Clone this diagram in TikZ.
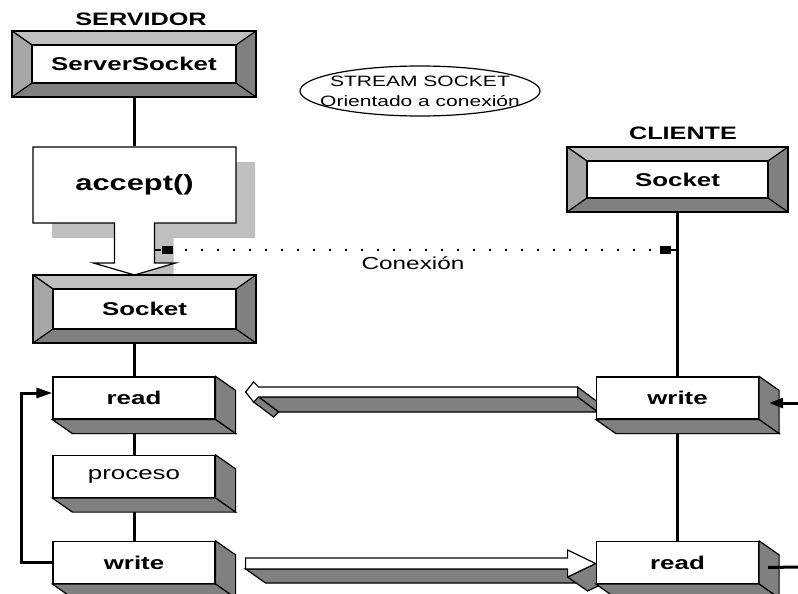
\documentclass[tikz,border=0pt]{standalone}
\usepackage{fontspec}
\setmainfont{Liberation Sans}[FakeStretch=1.4]
\usetikzlibrary{positioning,calc,arrows.meta}

\begin{document}
\begin{tikzpicture}[
        x=1pt, y=-1pt, line width=1.2pt,
        title/.style={font=\fontsize{18}{20}\selectfont\bfseries},
        frame/.style={draw, fill=gray, inner sep=0pt, font=\fontsize{18.5}{20}\selectfont\bfseries,
            path picture={
                \path (path picture bounding box.north west) coordinate (o1)
                      (path picture bounding box.north east) coordinate (o2)
                      (path picture bounding box.south east) coordinate (o3)
                      (path picture bounding box.south west) coordinate (o4);
                \filldraw[fill=gray!50] (o1) -- (o2) -- ([shift={(-20pt,-14pt)}]o2) -- ([shift={(20pt,-14pt)}]o1) -- cycle;
                \filldraw[fill=gray!70] (o1) -- ([shift={(20pt,-14pt)}]o1) -- ([shift={(20pt,14pt)}]o4) -- (o4) -- cycle;
                \draw (o3) -- ([shift={(-20pt,14pt)}]o3);
                \filldraw[fill=white] ([shift={(20pt,-14pt)}]o1) rectangle ([shift={(-20pt,14pt)}]o3);
            }},
        block/.style={draw, fill=white, minimum width=162pt, minimum height=42pt, inner sep=0pt, font=\fontsize{18.5}{20}\selectfont\bfseries},
        depth/.style={draw, fill=gray},
        note/.style={align=center, inner sep=0pt, font=\fontsize{15}{20}\selectfont},
        link/.style={line width=3pt},
        dots/.style={line width=2pt, dash pattern=on 2pt off 14pt},
        sq/.style={fill, inner sep=0pt, minimum width=11pt, minimum height=8pt},
        loopar/.style={line width=3pt, -{Triangle[length=16pt,width=10pt]}},
        accshadow/.style={fill=gray!50},
        accface/.style={draw, fill=white}
    ]
    \useasboundingbox (0,0) rectangle (798,594);

    % accept() arrow with its shadow
    \fill[accshadow, shift={(19,15)}] (33,147) -- (236,147) -- (236,223) -- (154.5,223) -- (154.5,263)
        -- (175.5,263) -- (134.5,275) -- (93.5,263) -- (114.5,263) -- (114.5,223) -- (33,223) -- cycle;
    \filldraw[accface] (33,147) -- (236,147) -- (236,223) -- (154.5,223) -- (154.5,263)
        -- (175.5,263) -- (134.5,275) -- (93.5,263) -- (114.5,263) -- (114.5,223) -- (33,223) -- cycle;

    % Servidor
    \node[title] (srv) at (141,19) {SERVIDOR};
    \node[frame, minimum width=244pt, minimum height=66pt] (ss) at (134,64) {ServerSocket};
    \node[font=\fontsize{22}{24}\selectfont\bfseries, minimum width=203pt, minimum height=76pt, inner sep=0pt] (acc) at (134.5,185) {accept()};
    \node[frame, minimum width=223pt, minimum height=68pt] (sock) at (144.5,309) {Socket};
    \node[block] (rd) at (134,398) {read};
    \node[block, font=\fontsize{18.5}{20}\selectfont] (pr) at (134,476.5) {proceso};
    \node[block] (wr) at (134,562.5) {write};

    % write -> read (cliente to servidor)
    \begin{scope}[shift={($(rd.east)+(30,-6)$)}]
        \filldraw[fill=gray] (332,-5) -- (352,10) -- (352,20) -- (332,5) -- cycle;
        \filldraw[fill=gray] (332,5) -- (352,20) -- (33,20) -- (13,5) -- cycle;
        \filldraw[fill=gray] (13,5) -- (33,20) -- (28,25) -- (8,10) -- cycle;
        \filldraw[fill=white] (0,0) -- (8,-10) -- (13,-5) -- (332,-5) -- (332,5) -- (13,5) -- (8,10) -- cycle;
    \end{scope}

    % write -> read (servidor to cliente)
    \begin{scope}[shift={($(wr.east)+(30,1)$)}]
        \filldraw[fill=gray] (0,5.5) -- (322,5.5) -- (342,19.5) -- (20,19.5) -- cycle;
        \filldraw[fill=gray] (350,0) -- (322,13.5) -- (342,27.5) -- (370,14) -- cycle;
        \filldraw[fill=white] (0,-5.5) -- (322,-5.5) -- (322,-13.5) -- (350,0) -- (322,13.5) -- (322,5.5) -- (0,5.5) -- cycle;
    \end{scope}

    % Cliente
    \node[title] (cli) at (683,133) {CLIENTE};
    \node[frame, minimum width=221pt, minimum height=65pt] (csock) at (677.5,179.5) {Socket};
    \node[block] (cwr) at (677.5,398) {write};
    \node[block] (crd) at (677.5,562.5) {read};

    \node[note] (strm) at (420,91) {STREAM SOCKET\\Orientado a conexión};
    \draw (strm.center) ellipse [x radius=120, y radius=25];

    % Lifelines
    \draw[link] (ss.south) -- (ss.south |- acc.north);
    \draw[link] (rd.north |- sock.south) -- (rd);
    \draw[link] (rd) -- (pr);
    \draw[link] (pr) -- (wr);
    \draw[link] (csock) -- (cwr);
    \draw[link] (cwr) -- (crd);

    % Depth of the blocks
    \foreach \n in {rd,pr,wr,cwr,crd} {
        \path[depth] (\n.north east) -- ++(20,14) -- ($(\n.south east)+(20,14)$) -- (\n.south east) -- cycle;
        \path[depth] (\n.south west) -- (\n.south east) -- ++(20,14) -- ($(\n.south west)+(20,14)$) -- cycle;
    }

    % Conexion
    \coordinate (stem) at (154.5,250);
    \node[sq] (sq1) at (167,250) {};
    \node[sq] (sq2) at (665,250) {};
    \draw (stem) -- (sq1);
    \draw[dots, shorten <=12pt] (sq1) -- (sq2);
    \draw (sq2) -- (sq2 -| csock.south);
    \node[font=\fontsize{17.4}{20}\selectfont] (cx) at (413,263) {Conexión};

    % Loop and outer arrows
    \draw[loopar] (wr.west) -- ++(-31,0) |- ($(rd.west)+(0,-5)$);
    \coordinate (cin) at (798,403);
    \coordinate (cout) at (798,567);
    \draw[line width=3pt, -{Triangle[length=14pt,width=10pt]}] (cin) -- ($(cwr.east)+(10,5)$);
    \draw[link] ($(crd.east)+(9,5)$) -- (cout);
\end{tikzpicture}
\end{document}
